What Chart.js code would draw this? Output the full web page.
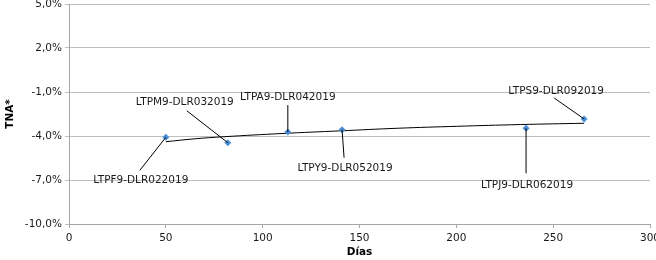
<!DOCTYPE html>
<html>
<head>
<meta charset="utf-8">
<script src="https://cdn.jsdelivr.net/npm/chart.js@4"></script>
<style>
	html, body { margin: 0; padding: 0; background: #fff; }
	#wrap { width: 656px; height: 260px; position: relative; }
</style>
</head>
<body>
<div id="wrap"><canvas id="chart"></canvas></div>
<script>
	// Bonds: days to maturity vs TNA (%)
	var bondNames = [ 'LTPF9-DLR022019', 'LTPM9-DLR032019', 'LTPA9-DLR042019', 'LTPY9-DLR052019', 'LTPJ9-DLR062019', 'LTPS9-DLR092019' ];
	var bondDays  = [ 50, 82, 113, 141, 236, 266 ];
	var bondTna   = [ -4.09, -4.46, -3.73, -3.57, -3.47, -2.84 ];

	// Trend line (log fit)
	var trendDays = [ 50, 65, 80, 110, 140, 170, 200, 233, 266 ];
	var trendTna  = [ -4.39, -4.19, -4.05, -3.83, -3.65, -3.47, -3.34, -3.22, -3.13 ];

	var yTicks = [ -10, -7, -4, -1, 2, 5 ];

	var FONT = "'DejaVu Sans', sans-serif";

	// label placement relative to each point: text centre and leader end (px)
	var labelLayout = [
		{ tx: -25, ty: 43, lx: -26, ly: 33 },
		{ tx: -43, ty: -40, lx: -41, ly: -32 },
		{ tx: 0, ty: -35, lx: 0, ly: -27 },
		{ tx: 3, ty: 39, lx: 2, ly: 28 },
		{ tx: 1, ty: 57, lx: 0, ly: 45 },
		{ tx: -28, ty: -28, lx: -30, ly: -21 },
	];

	var pointLabels = {
		id: 'pointLabels',
		afterDatasetsDraw: function ( chart ) {
			var ctx = chart.ctx;
			var xs = chart.scales.x, ys = chart.scales.y;
			ctx.save();
			ctx.strokeStyle = '#000';
			ctx.lineWidth = 1;
			ctx.fillStyle = '#1a1a1a';
			ctx.font = '10.5px ' + FONT;
			ctx.textAlign = 'center';
			ctx.textBaseline = 'middle';
			bondNames.forEach( function ( name, i ) {
				var px = xs.getPixelForValue( bondDays[ i ] );
				var py = ys.getPixelForValue( bondTna[ i ] );
				var l = labelLayout[ i ];
				ctx.beginPath();
				ctx.moveTo( px, py );
				ctx.lineTo( px + l.lx, py + l.ly );
				ctx.stroke();
				ctx.fillText( name, px + l.tx, py + l.ty );
			} );
			ctx.restore();
		}
	};

	new Chart( document.getElementById( 'chart' ), {
		type: 'scatter',
		data: {
			datasets: [
				{
					label: 'Trend',
					type: 'line',
					data: trendDays.map( function ( d, i ) { return { x: d, y: trendTna[ i ] }; } ),
					borderColor: '#000',
					borderWidth: 1,
					pointRadius: 0,
					fill: false,
					tension: 0.4,
					order: 2,
				},
				{
					label: 'Bonos',
					data: bondDays.map( function ( d, i ) { return { x: d, y: bondTna[ i ] }; } ),
					pointStyle: 'rectRot',
					pointRadius: 3.5,
					backgroundColor: '#4a8fd8',
					borderColor: '#4a8fd8',
					borderWidth: 0,
					order: 1,
				},
			],
		},
		options: {
			responsive: true,
			maintainAspectRatio: false,
			animation: false,
			layout: { padding: { left: 4, right: 6, top: 4, bottom: 1 } },
			plugins: {
				legend: { display: false },
				tooltip: { enabled: false },
			},
			scales: {
				x: {
					type: 'linear',
					min: 0,
					max: 300,
					ticks: {
						stepSize: 50,
						color: '#1a1a1a',
						font: { family: FONT, size: 10.5 },
						padding: 4,
						maxRotation: 0,
					},
					grid: { drawOnChartArea: false, drawTicks: true, tickLength: 4, color: '#a6a6a6' },
					border: { color: '#a6a6a6' },
					title: {
						display: true,
						text: 'Días',
						color: '#000',
						font: { family: FONT, size: 10.5, weight: 'bold' },
						padding: { top: 0, bottom: 0 },
					},
					afterFit: function ( s ) {
						s.paddingLeft = 0;
						s.paddingRight = 0;
						s.height = 35;
					},
				},
				y: {
					min: -10,
					max: 5,
					afterBuildTicks: function ( s ) {
						s.ticks = yTicks.map( function ( v ) { return { value: v }; } );
					},
					ticks: {
						color: '#1a1a1a',
						font: { family: FONT, size: 10.5 },
						padding: 3,
						callback: function ( v ) {
							return v.toFixed( 1 ).replace( '.', ',' ) + '%';
						},
					},
					grid: { color: '#bfbfbf', tickLength: 4 },
					border: { color: '#a6a6a6' },
					title: {
						display: true,
						text: 'TNA*',
						color: '#000',
						font: { family: FONT, size: 10.5, weight: 'bold' },
						padding: { top: 0, bottom: 0 },
					},
					afterFit: function ( s ) {
						s.paddingTop = 0;
						s.paddingBottom = 0;
						s.width = 65;
					},
				},
			},
		},
		plugins: [ pointLabels ],
	} );
</script>
</body>
</html>
